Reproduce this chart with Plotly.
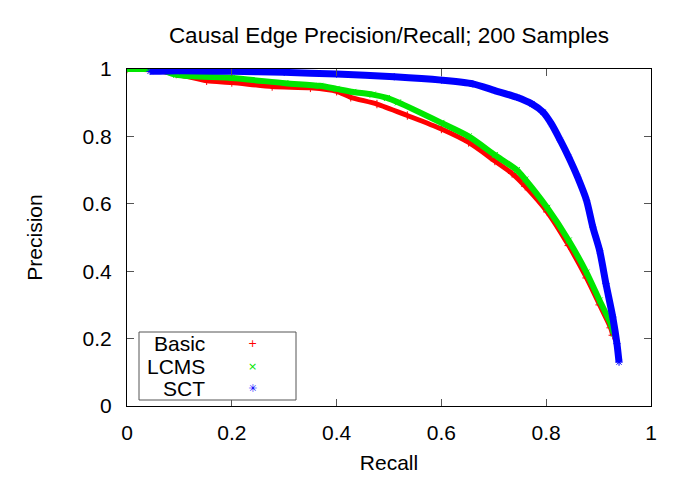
import plotly.graph_objects as go

# ---- data ----
basic_recall = [0.0, 0.05, 0.094, 0.152, 0.2, 0.277, 0.35, 0.4, 0.427, 0.477, 0.535,
                0.6, 0.652, 0.702, 0.735, 0.76, 0.802, 0.843, 0.877, 0.902, 0.923, 0.927]
basic_precision = [1.0, 0.997, 0.985, 0.965, 0.96, 0.948, 0.944, 0.934, 0.916, 0.896, 0.862,
                   0.822, 0.782, 0.727, 0.69, 0.652, 0.576, 0.476, 0.38, 0.30, 0.232, 0.21]

lcms_recall = [0.0, 0.03, 0.06, 0.094, 0.2, 0.302, 0.368, 0.4, 0.432, 0.469, 0.496, 0.517,
               0.6, 0.652, 0.702, 0.744, 0.76, 0.802, 0.843, 0.877, 0.902, 0.923, 0.929]
lcms_precision = [1.0, 1.0, 1.0, 0.983, 0.973, 0.958, 0.95, 0.941, 0.932, 0.924, 0.914, 0.901,
                  0.84, 0.8, 0.745, 0.7, 0.672, 0.588, 0.491, 0.396, 0.313, 0.244, 0.214]

sct_recall = [0.044, 0.1, 0.2, 0.3, 0.4, 0.51, 0.6, 0.66, 0.702, 0.744, 0.773, 0.794,
              0.81, 0.827, 0.843, 0.86, 0.877, 0.889, 0.902, 0.914, 0.927, 0.935, 0.939]
sct_precision = [0.993, 0.995, 0.993, 0.99, 0.985, 0.977, 0.967, 0.956, 0.936, 0.916, 0.896, 0.872,
                 0.837, 0.788, 0.738, 0.679, 0.61, 0.531, 0.461, 0.363, 0.264, 0.185, 0.13]

series_names = ["Basic", "LCMS", "SCT"]
series_colors = ["#ff0000", "#00e600", "#0000ff"]
legend_glyphs = ["+", "×", "✳"]

tick_vals = [0, 0.2, 0.4, 0.6, 0.8, 1]
tick_text = ["0", "0.2", "0.4", "0.6", "0.8", "1"]

FONT = "Liberation Sans, Arial, sans-serif"
FS = 21

# plot-area geometry in pixels (as seen in the page; body adds an 8px offset)
PX_L, PX_R, PX_T, PX_B = 127, 651, 69, 406


def px_to_paper_x(px):
    return (px - PX_L) / (PX_R - PX_L)


def px_to_paper_y(py):
    return (PX_B - py) / (PX_B - PX_T)


data = [(basic_recall, basic_precision, "cross-thin-open", 5),
        (lcms_recall, lcms_precision, "x-thin-open", 6),
        (sct_recall, sct_precision, "asterisk-open", 7)]

fig = go.Figure()
for name, color, (xs, ys, sym, width) in zip(series_names, series_colors, data):
    fig.add_trace(go.Scatter(
        x=xs, y=ys, mode="lines", line=dict(color=color, width=width, shape="spline", smoothing=0.7),
        showlegend=False, hoverinfo="skip", legendgroup=name, name=name,
    ))
    fig.add_trace(go.Scatter(
        x=xs, y=ys, mode="markers", name=name, legendgroup=name, showlegend=False,
        marker=dict(symbol=sym, size=6, color=color, line=dict(color=color, width=1)),
    ))

axis_common = dict(
    range=[0, 1], tickvals=tick_vals, ticktext=tick_text,
    showline=True, linecolor="black", linewidth=1.2, mirror="allticks",
    ticks="inside", ticklen=7, tickcolor="#555", tickwidth=1,
    showgrid=False, zeroline=False,
    tickfont=dict(family=FONT, size=FS, color="black"),
)

# gnuplot-style key: box, right-aligned labels, sample symbol on the right
row_py = [343, 366, 388]
annotations = []
for name, color, glyph, py in zip(series_names, series_colors, legend_glyphs, row_py):
    annotations.append(dict(
        text=name, xref="paper", yref="paper", x=px_to_paper_x(207), y=px_to_paper_y(py),
        xanchor="right", yanchor="middle", showarrow=False,
        font=dict(family=FONT, size=FS, color="black")))
    annotations.append(dict(
        text=glyph, xref="paper", yref="paper", x=px_to_paper_x(252), y=px_to_paper_y(py),
        xanchor="center", yanchor="middle", showarrow=False,
        font=dict(family="DejaVu Sans", size=11, color=color)))

fig.update_layout(
    width=685, height=479,
    margin=dict(l=119, r=42, t=61, b=81),
    paper_bgcolor="white", plot_bgcolor="white",
    font=dict(family=FONT, size=FS, color="black"),
    showlegend=False,
    title=dict(text="Causal Edge Precision/Recall; 200 Samples",
               x=0.5, xref="paper", y=1 - 27 / 479, yanchor="middle",
               font=dict(family=FONT, size=22.5, color="black")),
    xaxis=dict(**axis_common, ticklabelstandoff=8,
               title=dict(text="Recall", standoff=12,
                          font=dict(family=FONT, size=FS, color="black"))),
    yaxis=dict(**axis_common, ticklabelstandoff=10,
               title=dict(text="Precision", standoff=34,
                          font=dict(family=FONT, size=FS, color="black"))),
    shapes=[dict(type="rect", xref="paper", yref="paper",
                 x0=px_to_paper_x(139), x1=px_to_paper_x(296),
                 y0=px_to_paper_y(400), y1=px_to_paper_y(332),
                 line=dict(color="#555", width=1), fillcolor="white", layer="above")],
    annotations=annotations,
)

fig.write_html("out.html")
